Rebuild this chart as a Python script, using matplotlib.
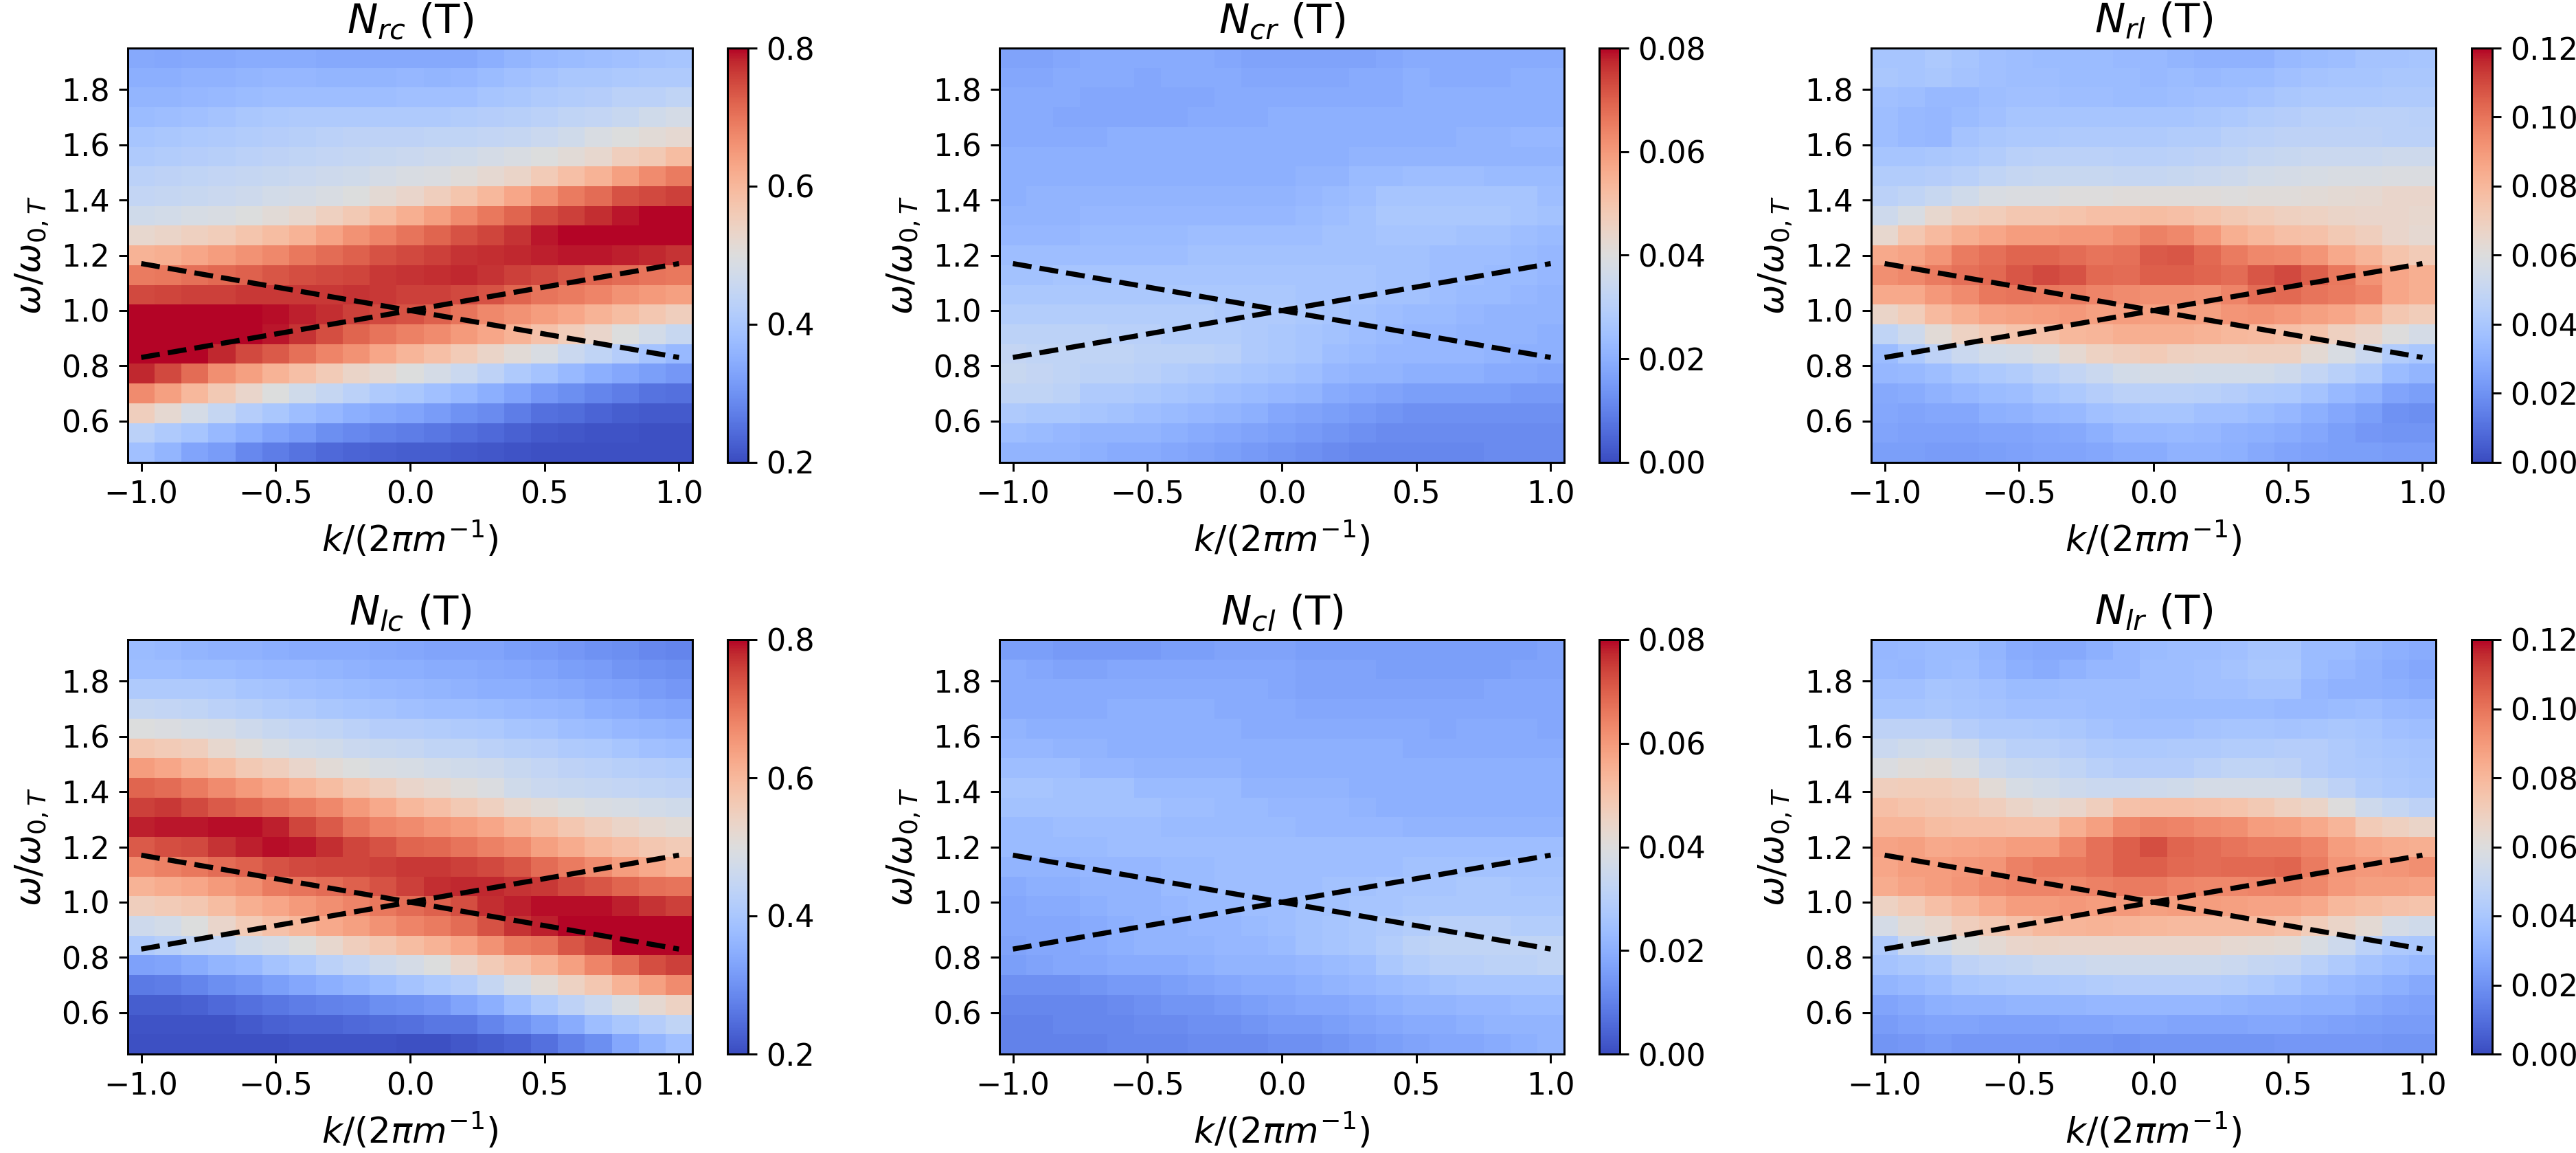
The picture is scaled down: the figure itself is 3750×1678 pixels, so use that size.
"""Six occupation maps N_ij(T) over (k, omega) with the dashed dispersion lines."""

import matplotlib

matplotlib.use("Agg")
import matplotlib.pyplot as plt
import numpy as np

# every map: 21 rows (top row first, omega high to low), 21 columns (k low to high)
N_RC = [
    [.34,.335,.34,.34,.345,.345,.345,.34,.34,.34,.34,.34,.34,.35,.36,.37,.375,.38,.385,.39,.395],
    [.35,.35,.355,.355,.36,.365,.365,.36,.36,.36,.365,.36,.365,.375,.385,.39,.40,.40,.405,.41,.41],
    [.36,.36,.365,.37,.375,.38,.38,.38,.38,.38,.385,.385,.385,.395,.40,.41,.415,.42,.43,.43,.44],
    [.375,.38,.385,.39,.40,.405,.41,.41,.41,.41,.41,.41,.415,.42,.425,.43,.44,.445,.455,.47,.48],
    [.395,.40,.405,.41,.415,.42,.425,.43,.435,.435,.435,.44,.44,.445,.45,.46,.47,.49,.50,.51,.52],
    [.41,.415,.42,.425,.43,.435,.44,.445,.45,.455,.46,.465,.47,.48,.49,.50,.51,.525,.55,.565,.59],
    [.43,.435,.44,.445,.45,.455,.46,.465,.47,.48,.49,.495,.505,.52,.535,.56,.585,.61,.64,.67,.69],
    [.445,.45,.455,.46,.465,.475,.48,.49,.50,.515,.53,.55,.575,.60,.63,.66,.69,.71,.74,.75,.76],
    [.47,.475,.485,.49,.50,.51,.525,.545,.565,.59,.615,.64,.67,.695,.72,.745,.76,.775,.79,.80,.80],
    [.525,.535,.545,.555,.575,.59,.61,.635,.66,.68,.70,.72,.74,.755,.77,.79,.80,.80,.80,.80,.80],
    [.61,.615,.63,.645,.66,.675,.695,.71,.725,.74,.75,.76,.77,.775,.78,.785,.79,.79,.785,.78,.77],
    [.69,.695,.705,.715,.725,.735,.745,.75,.755,.765,.77,.775,.78,.77,.76,.75,.735,.72,.71,.70,.695],
    [.75,.755,.76,.76,.765,.765,.765,.765,.77,.765,.76,.76,.75,.74,.72,.70,.69,.68,.66,.65,.64],
    [.80,.80,.80,.80,.80,.795,.785,.775,.76,.75,.74,.725,.70,.675,.66,.645,.63,.61,.59,.57,.55],
    [.80,.80,.80,.80,.80,.79,.77,.745,.72,.70,.685,.67,.65,.63,.61,.58,.555,.53,.50,.475,.455],
    [.80,.80,.80,.78,.75,.73,.704,.68,.66,.63,.605,.585,.56,.535,.51,.49,.46,.44,.42,.39,.37],
    [.78,.75,.71,.665,.64,.61,.585,.56,.535,.52,.50,.48,.46,.435,.41,.39,.37,.35,.335,.32,.31],
    [.67,.64,.60,.565,.53,.50,.47,.45,.43,.41,.40,.385,.37,.35,.33,.31,.295,.28,.27,.255,.25],
    [.55,.52,.48,.45,.42,.40,.38,.365,.35,.34,.33,.315,.30,.29,.27,.25,.245,.235,.225,.22,.22],
    [.43,.41,.395,.37,.35,.33,.315,.295,.285,.275,.27,.26,.25,.24,.23,.22,.215,.21,.21,.205,.205],
    [.385,.36,.33,.315,.285,.27,.255,.24,.235,.23,.225,.225,.22,.215,.21,.205,.205,.205,.205,.205,.205],
]
N_LC = [
    [.375,.37,.36,.355,.355,.35,.345,.345,.345,.34,.335,.33,.33,.33,.32,.315,.31,.30,.295,.285,.28],
    [.38,.38,.375,.375,.37,.365,.365,.36,.355,.35,.35,.345,.345,.34,.335,.33,.32,.315,.305,.30,.295],
    [.41,.41,.41,.405,.395,.39,.385,.38,.375,.37,.365,.36,.355,.35,.35,.345,.34,.33,.325,.315,.31],
    [.45,.445,.44,.43,.425,.415,.41,.40,.395,.39,.385,.38,.38,.375,.37,.365,.36,.35,.345,.335,.33],
    [.50,.495,.485,.48,.465,.455,.445,.44,.43,.42,.42,.415,.41,.405,.395,.39,.38,.375,.365,.36,.355],
    [.57,.56,.55,.525,.505,.49,.475,.47,.46,.455,.45,.44,.44,.43,.425,.42,.41,.405,.395,.385,.38],
    [.645,.63,.61,.59,.565,.55,.53,.51,.50,.49,.485,.475,.47,.465,.455,.445,.435,.43,.425,.42,.415],
    [.72,.71,.69,.67,.65,.63,.61,.59,.57,.55,.53,.52,.505,.495,.47,.46,.455,.45,.445,.44,.435],
    [.76,.765,.75,.73,.72,.705,.69,.675,.65,.625,.60,.585,.565,.545,.525,.51,.50,.49,.485,.475,.47],
    [.785,.79,.79,.795,.795,.785,.755,.73,.70,.68,.67,.655,.645,.63,.61,.59,.57,.55,.535,.52,.51],
    [.73,.745,.75,.77,.785,.795,.79,.775,.755,.74,.72,.715,.70,.685,.67,.64,.62,.60,.585,.57,.56],
    [.67,.685,.695,.71,.725,.74,.75,.755,.755,.76,.765,.765,.76,.75,.735,.71,.69,.67,.645,.625,.61],
    [.61,.62,.63,.65,.665,.69,.70,.71,.725,.74,.76,.775,.78,.78,.77,.765,.75,.735,.72,.705,.70],
    [.55,.56,.57,.59,.615,.63,.65,.665,.68,.695,.71,.725,.745,.775,.785,.795,.795,.795,.785,.77,.76],
    [.465,.475,.50,.53,.56,.58,.60,.625,.64,.66,.68,.69,.71,.74,.77,.785,.80,.80,.80,.80,.80],
    [.41,.425,.44,.445,.47,.48,.50,.525,.55,.57,.59,.61,.63,.66,.69,.70,.735,.76,.80,.80,.80],
    [.325,.33,.345,.36,.37,.39,.405,.43,.445,.465,.48,.50,.53,.56,.58,.61,.64,.68,.71,.745,.76],
    [.265,.27,.28,.295,.305,.32,.335,.35,.36,.375,.39,.405,.42,.45,.48,.51,.54,.57,.61,.64,.67],
    [.225,.225,.23,.24,.25,.26,.27,.275,.28,.295,.30,.31,.33,.35,.38,.41,.435,.46,.49,.52,.54],
    [.21,.21,.21,.21,.22,.23,.235,.235,.24,.245,.25,.26,.26,.28,.30,.32,.345,.38,.40,.42,.44],
    [.205,.205,.205,.205,.205,.205,.21,.21,.21,.21,.205,.205,.215,.225,.235,.25,.275,.295,.335,.36,.385],
]
N_CR = [
    [.017,.017,.018,.019,.019,.019,.019,.019,.018,.017,.017,.017,.017,.017,.018,.019,.019,.019,.019,.019,.019],
    [.018,.018,.019,.019,.019,.018,.019,.019,.019,.018,.018,.018,.018,.019,.019,.020,.019,.019,.019,.020,.020],
    [.019,.019,.019,.018,.018,.018,.018,.018,.019,.019,.019,.019,.019,.019,.019,.020,.020,.020,.020,.020,.020],
    [.019,.019,.018,.018,.018,.018,.018,.019,.019,.019,.020,.020,.020,.020,.020,.020,.020,.020,.020,.020,.020],
    [.019,.019,.019,.019,.020,.020,.020,.020,.020,.020,.020,.020,.020,.020,.020,.020,.020,.021,.021,.022,.022],
    [.020,.020,.020,.020,.020,.020,.020,.020,.020,.020,.020,.020,.020,.021,.021,.021,.021,.021,.021,.021,.021],
    [.020,.020,.020,.020,.020,.020,.020,.020,.020,.020,.020,.021,.021,.023,.023,.024,.024,.024,.023,.023,.023],
    [.020,.021,.021,.021,.021,.021,.021,.021,.021,.021,.021,.022,.023,.024,.026,.026,.026,.026,.026,.026,.024],
    [.021,.021,.021,.022,.022,.022,.022,.022,.022,.022,.022,.023,.024,.025,.027,.027,.027,.027,.027,.026,.025],
    [.022,.022,.022,.023,.023,.023,.023,.024,.024,.024,.024,.024,.025,.025,.026,.026,.026,.025,.025,.024,.023],
    [.024,.024,.024,.024,.024,.024,.024,.025,.025,.025,.025,.025,.025,.025,.025,.025,.024,.024,.024,.023,.022],
    [.025,.025,.026,.026,.026,.026,.026,.026,.026,.026,.026,.026,.026,.026,.025,.025,.024,.024,.023,.023,.022],
    [.027,.027,.027,.027,.027,.027,.027,.027,.027,.027,.027,.026,.026,.026,.025,.025,.024,.023,.023,.022,.021],
    [.029,.029,.029,.029,.029,.029,.029,.029,.028,.028,.028,.027,.026,.025,.024,.023,.023,.022,.021,.021,.021],
    [.031,.031,.031,.031,.030,.030,.029,.029,.029,.028,.027,.026,.025,.024,.023,.022,.022,.021,.021,.021,.020],
    [.033,.032,.032,.032,.032,.031,.031,.031,.030,.028,.027,.026,.024,.023,.022,.022,.022,.022,.021,.020,.020],
    [.034,.033,.032,.031,.031,.030,.029,.028,.027,.026,.025,.024,.022,.021,.021,.020,.020,.020,.019,.019,.018],
    [.032,.032,.031,.028,.028,.027,.026,.025,.024,.023,.022,.021,.019,.018,.017,.016,.016,.016,.016,.015,.015],
    [.028,.027,.027,.026,.025,.024,.023,.022,.021,.020,.018,.017,.016,.015,.014,.013,.013,.013,.013,.013,.013],
    [.024,.023,.022,.021,.021,.021,.020,.019,.018,.017,.016,.015,.014,.013,.012,.012,.012,.012,.012,.012,.012],
    [.021,.021,.021,.020,.019,.019,.018,.017,.016,.015,.014,.013,.012,.011,.011,.011,.011,.011,.012,.012,.012],
]
N_CL = [
    [.016,.016,.015,.015,.015,.015,.016,.016,.017,.017,.017,.016,.016,.016,.016,.016,.016,.016,.016,.016,.017],
    [.019,.018,.017,.017,.018,.018,.018,.018,.018,.018,.018,.017,.017,.017,.016,.016,.016,.016,.016,.017,.017],
    [.019,.019,.019,.019,.019,.019,.019,.019,.019,.019,.018,.017,.017,.017,.017,.017,.017,.017,.018,.018,.018],
    [.019,.019,.019,.019,.020,.020,.020,.020,.019,.019,.019,.018,.018,.018,.018,.018,.018,.018,.018,.018,.018],
    [.021,.020,.020,.020,.020,.020,.020,.020,.020,.019,.019,.019,.019,.019,.019,.019,.018,.019,.019,.019,.018],
    [.022,.022,.021,.021,.020,.020,.020,.020,.020,.020,.020,.020,.020,.020,.020,.019,.019,.019,.019,.019,.019],
    [.024,.024,.024,.022,.022,.021,.021,.021,.021,.020,.020,.020,.020,.020,.020,.020,.020,.020,.020,.020,.020],
    [.026,.026,.025,.025,.025,.023,.023,.023,.023,.021,.021,.021,.021,.020,.020,.020,.020,.020,.020,.020,.020],
    [.025,.025,.025,.025,.025,.025,.024,.024,.023,.023,.022,.022,.022,.021,.020,.020,.020,.020,.020,.020,.020],
    [.023,.023,.024,.024,.024,.024,.023,.023,.023,.023,.023,.022,.022,.022,.022,.021,.021,.021,.021,.021,.021],
    [.023,.023,.023,.023,.024,.024,.024,.024,.024,.024,.024,.024,.024,.024,.024,.024,.024,.024,.024,.024,.024],
    [.021,.021,.021,.022,.022,.022,.023,.023,.024,.024,.024,.024,.024,.024,.024,.025,.025,.025,.025,.025,.025],
    [.019,.020,.020,.021,.021,.021,.023,.023,.024,.024,.024,.024,.025,.025,.026,.026,.026,.027,.027,.026,.026],
    [.018,.019,.019,.020,.021,.021,.022,.023,.023,.024,.024,.025,.025,.026,.026,.027,.027,.027,.027,.027,.027],
    [.018,.018,.018,.019,.020,.021,.021,.022,.022,.023,.024,.025,.026,.027,.028,.029,.030,.030,.030,.029,.029],
    [.017,.018,.018,.019,.020,.021,.021,.021,.022,.022,.023,.025,.026,.027,.029,.031,.032,.032,.032,.032,.032],
    [.016,.017,.018,.018,.019,.019,.019,.020,.021,.021,.021,.022,.023,.024,.027,.029,.030,.030,.031,.031,.032],
    [.013,.013,.013,.014,.015,.015,.016,.017,.018,.019,.019,.020,.021,.022,.023,.024,.025,.026,.026,.026,.026],
    [.011,.011,.011,.011,.012,.013,.014,.014,.015,.016,.017,.018,.018,.019,.020,.021,.021,.022,.022,.023,.023],
    [.010,.010,.011,.011,.011,.012,.012,.013,.013,.014,.015,.015,.016,.017,.018,.019,.019,.020,.021,.021,.021],
    [.010,.010,.010,.010,.011,.011,.011,.012,.012,.012,.013,.013,.014,.015,.016,.017,.018,.018,.019,.020,.021],
]
N_RL = [
    [.039,.039,.041,.039,.037,.036,.035,.035,.035,.034,.034,.032,.031,.031,.031,.034,.035,.036,.038,.038,.039],
    [.040,.039,.040,.038,.037,.036,.036,.035,.035,.035,.034,.035,.034,.035,.035,.037,.038,.039,.039,.040,.040],
    [.037,.036,.034,.034,.036,.037,.037,.036,.036,.035,.035,.036,.037,.037,.038,.040,.041,.041,.041,.042,.042],
    [.036,.034,.033,.035,.037,.039,.039,.039,.039,.039,.039,.039,.040,.041,.043,.044,.045,.045,.046,.046,.045],
    [.036,.034,.033,.038,.040,.041,.041,.042,.042,.042,.042,.043,.043,.045,.046,.047,.047,.047,.047,.046,.046],
    [.039,.039,.040,.041,.043,.045,.046,.046,.046,.045,.045,.046,.047,.048,.050,.051,.052,.052,.052,.053,.053],
    [.043,.043,.044,.045,.048,.050,.051,.051,.051,.050,.050,.051,.052,.053,.055,.056,.057,.058,.058,.059,.059],
    [.046,.048,.051,.054,.058,.059,.059,.060,.060,.061,.061,.061,.061,.060,.061,.061,.062,.063,.064,.066,.066],
    [.053,.058,.065,.069,.071,.074,.074,.075,.077,.077,.078,.077,.075,.073,.071,.069,.068,.067,.066,.066,.065],
    [.065,.074,.079,.083,.086,.089,.089,.090,.090,.093,.097,.095,.090,.083,.080,.077,.076,.073,.070,.066,.064],
    [.085,.087,.091,.098,.101,.104,.104,.102,.100,.101,.106,.107,.103,.098,.095,.094,.091,.085,.081,.075,.072],
    [.093,.095,.098,.101,.103,.107,.110,.108,.103,.102,.105,.105,.104,.102,.107,.110,.105,.099,.092,.086,.083],
    [.085,.085,.090,.094,.099,.100,.099,.098,.096,.094,.093,.093,.092,.096,.102,.103,.100,.098,.096,.086,.083],
    [.067,.071,.079,.083,.087,.088,.089,.090,.088,.089,.088,.088,.088,.091,.092,.090,.088,.086,.082,.074,.071],
    [.048,.053,.062,.068,.072,.075,.076,.080,.081,.083,.083,.083,.082,.080,.079,.077,.075,.069,.066,.060,.056],
    [.035,.041,.047,.052,.055,.056,.059,.064,.068,.070,.072,.069,.068,.068,.069,.069,.063,.058,.052,.043,.040],
    [.033,.034,.036,.039,.041,.043,.046,.049,.052,.055,.056,.056,.055,.055,.055,.053,.049,.045,.042,.035,.032],
    [.028,.029,.031,.033,.035,.036,.039,.041,.044,.046,.046,.046,.045,.044,.042,.041,.038,.034,.031,.026,.024],
    [.027,.026,.027,.027,.030,.031,.033,.034,.037,.038,.039,.039,.037,.037,.035,.033,.030,.027,.024,.020,.019],
    [.026,.025,.025,.025,.026,.026,.027,.028,.030,.033,.033,.034,.033,.031,.030,.029,.027,.024,.022,.021,.021],
    [.024,.024,.023,.023,.024,.025,.026,.026,.027,.029,.029,.031,.031,.030,.028,.026,.025,.024,.024,.023,.023],
]
N_LR = [
    [.033,.034,.035,.035,.032,.029,.028,.028,.030,.033,.035,.036,.036,.037,.039,.039,.035,.035,.032,.030,.029],
    [.034,.033,.035,.036,.033,.030,.029,.031,.033,.033,.036,.036,.037,.038,.040,.040,.035,.033,.031,.029,.027],
    [.037,.037,.039,.038,.037,.035,.035,.036,.036,.036,.036,.036,.037,.037,.038,.038,.033,.031,.031,.030,.029],
    [.039,.039,.040,.039,.038,.037,.037,.037,.036,.036,.035,.035,.035,.035,.035,.034,.034,.035,.036,.034,.033],
    [.047,.047,.047,.044,.042,.042,.041,.040,.038,.037,.037,.037,.038,.039,.039,.038,.039,.040,.039,.037,.036],
    [.052,.054,.055,.053,.048,.045,.045,.044,.042,.041,.041,.042,.042,.043,.043,.044,.044,.042,.040,.039,.038],
    [.059,.061,.062,.059,.053,.051,.050,.048,.045,.044,.044,.044,.046,.048,.048,.047,.044,.042,.041,.040,.039],
    [.070,.071,.071,.069,.062,.057,.055,.053,.052,.052,.053,.054,.056,.056,.056,.056,.051,.047,.043,.041,.040],
    [.077,.075,.074,.073,.070,.067,.064,.066,.070,.076,.077,.077,.076,.075,.073,.069,.067,.060,.053,.050,.047],
    [.081,.081,.078,.077,.077,.076,.076,.083,.088,.095,.097,.096,.094,.093,.089,.088,.085,.081,.072,.069,.067],
    [.087,.088,.085,.086,.087,.089,.089,.095,.101,.105,.109,.104,.102,.100,.098,.098,.096,.089,.086,.084,.083],
    [.086,.089,.089,.090,.091,.097,.099,.099,.101,.105,.105,.103,.102,.103,.103,.104,.098,.091,.090,.091,.093],
    [.084,.087,.089,.091,.094,.096,.096,.095,.097,.098,.098,.096,.095,.095,.096,.097,.095,.090,.088,.088,.087],
    [.068,.072,.077,.081,.085,.089,.089,.090,.089,.090,.088,.089,.089,.088,.087,.087,.085,.080,.078,.076,.075],
    [.056,.062,.065,.070,.073,.076,.080,.081,.082,.081,.080,.079,.079,.079,.079,.077,.071,.067,.063,.056,.054],
    [.042,.052,.055,.060,.063,.066,.067,.066,.066,.066,.066,.066,.066,.064,.063,.062,.058,.053,.046,.041,.040],
    [.038,.040,.042,.047,.049,.050,.052,.052,.053,.053,.053,.053,.053,.052,.050,.049,.045,.042,.038,.036,.034],
    [.032,.034,.036,.039,.040,.041,.041,.042,.043,.044,.044,.044,.044,.043,.041,.039,.036,.034,.032,.030,.028],
    [.026,.028,.030,.031,.031,.032,.032,.032,.033,.033,.033,.033,.033,.032,.031,.031,.030,.030,.028,.026,.025],
    [.023,.025,.026,.026,.025,.025,.025,.026,.026,.027,.027,.026,.026,.026,.027,.027,.026,.025,.024,.023,.023],
    [.021,.022,.023,.022,.022,.022,.022,.021,.021,.020,.021,.021,.021,.021,.021,.022,.022,.022,.022,.021,.021],
]

K_LIMITS = [-1.05, 1.05]
OMEGA_LIMITS = [0.45, 1.95]
LINE_K = [-1.0, 1.0]
LINE_UP = [0.83, 1.17]
LINE_DOWN = [1.17, 0.83]

TITLES = [r"$N_{rc}$ (T)", r"$N_{cr}$ (T)", r"$N_{rl}$ (T)",
          r"$N_{lc}$ (T)", r"$N_{cl}$ (T)", r"$N_{lr}$ (T)"]
MAPS = [N_RC, N_CR, N_RL, N_LC, N_CL, N_LR]
COLOR_RANGES = [(0.2, 0.8), (0.0, 0.08), (0.0, 0.12)] * 2
COLOR_TICKS = [
    [0.2, 0.4, 0.6, 0.8],
    [0.0, 0.02, 0.04, 0.06, 0.08],
    [0.0, 0.02, 0.04, 0.06, 0.08, 0.10, 0.12],
] * 2
COLOR_FORMATS = ["%.1f", "%.2f", "%.2f"] * 2

WIDTH, HEIGHT = 3750, 1678
DPI = 267
# left edge of the map and of its colour bar per column, top per row, in pixels
AX_LEFT = [186, 1455, 2724]
BAR_LEFT = [1059, 2328, 3598]
ROW_TOP = [70, 931]
AX_W, AX_H, BAR_W = 822, 603, 30


def box(left, top, width, height):
    return [left / WIDTH, 1 - (top + height) / HEIGHT, width / WIDTH, height / HEIGHT]


fig = plt.figure(figsize=(WIDTH / DPI, HEIGHT / DPI), dpi=DPI)

k_edges = np.linspace(*K_LIMITS, 22)
omega_edges = np.linspace(*OMEGA_LIMITS, 22)

for i, (title, values) in enumerate(zip(TITLES, MAPS)):
    row, col = divmod(i, 3)
    ax = fig.add_axes(box(AX_LEFT[col], ROW_TOP[row], AX_W, AX_H))
    cax = fig.add_axes(box(BAR_LEFT[col], ROW_TOP[row], BAR_W, AX_H))
    vmin, vmax = COLOR_RANGES[i]
    mesh = ax.pcolormesh(k_edges, omega_edges, np.array(values)[::-1],
                         cmap="coolwarm", vmin=vmin, vmax=vmax, antialiased=True)
    ax.plot(LINE_K, LINE_UP, "k--", linewidth=2)
    ax.plot(LINE_K, LINE_DOWN, "k--", linewidth=2)
    ax.set_xlim(K_LIMITS)
    ax.set_ylim(OMEGA_LIMITS)
    ax.set_xticks([-1.0, -0.5, 0.0, 0.5, 1.0])
    ax.set_yticks([0.6, 0.8, 1.0, 1.2, 1.4, 1.6, 1.8])
    ax.tick_params(labelsize=12)
    ax.set_xlabel(r"$k/(2\pi m^{-1})$", fontsize=14)
    ax.set_ylabel(r"$\omega/\omega_{0,T}$", fontsize=14)
    ax.set_title(title, fontsize=16)
    bar = fig.colorbar(mesh, cax=cax, ticks=COLOR_TICKS[i], format=COLOR_FORMATS[i])
    bar.ax.tick_params(labelsize=12)

fig.savefig("out.png", dpi=DPI)
